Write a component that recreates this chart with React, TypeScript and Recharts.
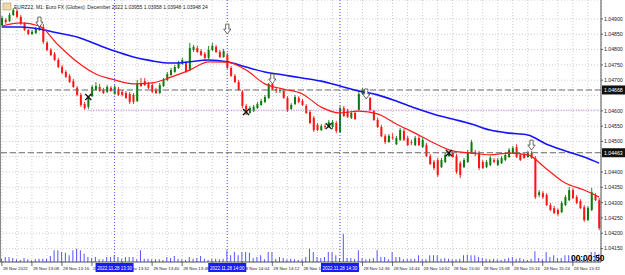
import React from "react";
import {
  Bar,
  CartesianGrid,
  ComposedChart,
  Line,
  ReferenceLine,
  XAxis,
  YAxis,
} from "recharts";

const W = 625;
const H = 275;

const title = "EURZ22, M1: Euro FX (Globex): December 2022  1.03955 1.03958 1.03948 1.03948 24";
const clockText = "00:00:50";
const firstMinute = 13 * 60; // first bar 13:00, one bar per minute

// candle prices in points above 1.04000 (1 point = 0.00001)
const opens = [
  880, 897, 893, 913, 926, 907, 884, 864, 851, 854,
  864, 874, 822, 799, 786, 766, 743, 727, 714, 697,
  675, 652, 622, 613, 648, 668, 678, 668, 662, 675,
  655, 671, 662, 658, 655, 652, 632, 688, 697, 688,
  684, 668, 658, 681, 701, 717, 727, 740, 753, 756,
  733, 799, 805, 795, 786, 773, 799, 809, 792, 776,
  782, 740, 714, 694, 662, 616, 593, 599, 609, 619,
  629, 642, 688, 671, 665, 665, 642, 606, 622, 642,
  632, 616, 596, 577, 554, 537, 550, 547, 547, 560,
  531, 609, 599, 577, 593, 603, 655, 662, 642, 599,
  570, 547, 517, 498, 514, 491, 505, 534, 511, 498,
  488, 511, 482, 488, 452, 433, 439, 416, 433, 452,
  462, 452, 429, 416, 433, 462, 465, 462, 433, 416,
  423, 439, 423, 429, 439, 449, 462, 481, 456, 456,
  449, 462, 446, 325, 331, 325, 292, 282, 276, 269,
  292, 308, 341, 318, 305, 285, 243, 276, 325, 308,
];
const highs = [
  910, 903, 920, 936, 933, 913, 890, 867, 864, 874,
  890, 884, 828, 805, 792, 773, 750, 733, 720, 704,
  681, 658, 629, 648, 684, 694, 688, 675, 684, 681,
  684, 678, 668, 665, 662, 658, 701, 707, 707, 694,
  691, 675, 691, 707, 727, 740, 750, 763, 773, 763,
  822, 815, 812, 802, 792, 812, 822, 815, 799, 802,
  789, 746, 720, 701, 668, 622, 616, 619, 629, 639,
  652, 691, 701, 678, 675, 671, 648, 625, 652, 648,
  639, 622, 603, 583, 560, 557, 557, 570, 570, 567,
  616, 616, 606, 599, 599, 668, 675, 668, 645, 603,
  577, 554, 524, 524, 527, 518, 544, 541, 518, 505,
  518, 518, 511, 495, 459, 439, 446, 446, 462, 469,
  469, 459, 436, 446, 472, 505, 472, 469, 439, 439,
  452, 446, 446, 452, 462, 478, 485, 491, 462, 462,
  469, 469, 452, 341, 338, 331, 299, 289, 282, 305,
  325, 351, 348, 325, 311, 292, 289, 348, 331, 315,
];
const lows = [
  874, 884, 890, 910, 903, 880, 861, 848, 848, 851,
  861, 818, 795, 779, 763, 740, 720, 707, 691, 675,
  648, 613, 603, 606, 645, 665, 662, 655, 658, 662,
  652, 648, 648, 639, 622, 622, 629, 678, 681, 671,
  658, 655, 655, 678, 697, 714, 724, 737, 750, 724,
  730, 792, 789, 779, 766, 769, 795, 789, 773, 773,
  737, 711, 691, 665, 609, 586, 590, 596, 606, 616,
  625, 639, 668, 658, 658, 639, 596, 603, 619, 625,
  616, 590, 557, 531, 534, 534, 541, 544, 541, 527,
  527, 580, 577, 573, 570, 599, 652, 639, 599, 567,
  544, 514, 491, 495, 505, 488, 501, 501, 485, 488,
  485, 485, 478, 449, 423, 406, 384, 413, 429, 449,
  446, 394, 380, 413, 429, 459, 452, 406, 410, 413,
  419, 429, 419, 426, 436, 446, 459, 446, 436, 443,
  446, 443, 312, 318, 312, 289, 272, 263, 256, 266,
  289, 305, 312, 295, 279, 237, 240, 272, 305, 210,
];
const closes = [
  903, 890, 913, 929, 907, 884, 864, 851, 858, 867,
  880, 825, 799, 782, 766, 743, 724, 711, 694, 678,
  652, 619, 609, 642, 678, 681, 665, 658, 678, 665,
  678, 652, 652, 642, 629, 629, 688, 681, 684, 675,
  662, 658, 684, 701, 720, 733, 743, 756, 766, 727,
  805, 809, 792, 782, 773, 799, 812, 792, 776, 795,
  740, 714, 694, 668, 616, 593, 609, 613, 622, 632,
  645, 688, 671, 665, 668, 642, 603, 619, 645, 629,
  619, 593, 560, 537, 537, 550, 547, 563, 563, 534,
  609, 583, 580, 593, 573, 655, 668, 642, 603, 570,
  547, 517, 498, 518, 511, 511, 537, 505, 488, 495,
  511, 488, 505, 452, 426, 413, 390, 439, 456, 462,
  449, 400, 390, 439, 465, 498, 459, 413, 413, 433,
  446, 433, 439, 446, 456, 472, 478, 449, 439, 446,
  462, 446, 318, 334, 318, 292, 276, 266, 263, 299,
  318, 341, 315, 299, 282, 243, 282, 334, 308, 217,
];
const volumes = [
  10, 15, 15, 12, 8, 6, 12, 8, 5, 8,
  10, 10, 10, 18, 35, 35, 30, 28, 20, 35,
  40, 35, 25, 15, 12, 15, 8, 8, 15, 15,
  20, 15, 10, 15, 15, 15, 8, 35, 10, 10,
  8, 8, 8, 6, 15, 12, 18, 10, 8, 6,
  15, 10, 12, 18, 10, 6, 10, 10, 8, 10,
  35, 20, 30, 20, 30, 30, 28, 12, 15, 20,
  8, 30, 30, 10, 15, 12, 8, 10, 8, 6,
  8, 15, 40, 30, 15, 12, 15, 30, 30, 20,
  12, 85, 12, 12, 10, 35, 12, 8, 10, 12,
  35, 15, 15, 8, 30, 15, 15, 8, 10, 10,
  10, 20, 8, 8, 20, 20, 20, 10, 12, 10,
  8, 8, 10, 20, 22, 20, 20, 15, 12, 10,
  8, 10, 8, 6, 10, 12, 15, 10, 12, 8,
  6, 10, 32, 12, 8, 30, 15, 20, 12, 12,
  20, 20, 12, 15, 12, 10, 10, 30, 30, 25,
];

// moving averages read at these bars (points above 1.04000)
const maBars = [0, 5, 10, 15, 20, 25, 30, 35, 40, 45, 50, 55, 60, 65, 70, 75, 80, 85, 90, 95, 100, 105, 110, 115, 120, 125, 130, 135, 140, 145, 150, 155, 159];
const redMa = [877, 887, 877, 815, 760, 720, 701, 688, 691, 710, 733, 760, 759, 733, 688, 671, 655, 612, 593, 599, 590, 557, 527, 495, 469, 462, 456, 462, 456, 410, 364, 341, 318];
const blueMa = [874, 874, 867, 854, 841, 818, 795, 776, 763, 756, 760, 766, 760, 743, 727, 717, 707, 697, 681, 665, 652, 632, 609, 589, 573, 557, 537, 527, 521, 491, 469, 449, 429];

const arrowBars = [10, 60, 72, 97, 141];
const arrowPts = [890, 867, 704, 655, 488];
const crossBars = [23, 65, 87, 119];
const crossPts = [645, 596, 550, 462];

const timeLabels = [
  "28 Nov 2022", "28 Nov 13:08", "28 Nov 13:16", "28 Nov 13:24", "28 Nov 13:32",
  "28 Nov 13:40", "28 Nov 13:48", "28 Nov 13:56", "28 Nov 14:04", "28 Nov 14:12",
  "28 Nov 14:20", "28 Nov 14:28", "28 Nov 14:36", "28 Nov 14:44", "28 Nov 14:52",
  "28 Nov 15:00", "28 Nov 15:08", "28 Nov 15:16", "28 Nov 15:24", "28 Nov 15:32",
];
const separatorBars = [30, 60, 90];
const separatorLabels = ["2022.11.28 13:30", "2022.11.28 14:00", "2022.11.28 14:30"];

const priceTicks = [1.0415, 1.042, 1.0425, 1.043, 1.0435, 1.044, 1.0445, 1.045, 1.0455, 1.046, 1.0465, 1.047, 1.0475, 1.048, 1.0485, 1.049];
const coveredTicks = [1.0465, 1.0445];
const dashedLevels = [1.04668, 1.04463];
const purpleLevel = 1.04602;
const purpleFromBar = 23;
const priceDomain = [1.04106, 1.04962];

const pt = (p: number) => 1.04 + p / 100000;

const times = opens.map((_, i) => {
  const m = firstMinute + i;
  return `${Math.floor(m / 60)}:${String(m % 60).padStart(2, "0")}`;
});

const data = opens.map((o, i) => {
  const ma = maBars.indexOf(i);
  const ar = arrowBars.indexOf(i);
  const cr = crossBars.indexOf(i);
  return {
    t: times[i],
    open: pt(o),
    high: pt(highs[i]),
    low: pt(lows[i]),
    close: pt(closes[i]),
    range: [pt(lows[i]), pt(highs[i])],
    vol: volumes[i],
    maRed: ma >= 0 ? pt(redMa[ma]) : null,
    maBlue: ma >= 0 ? pt(blueMa[ma]) : null,
    arrow: ar >= 0 ? pt(arrowPts[ar]) : null,
    cross: cr >= 0 ? pt(crossPts[cr]) : null,
  };
});

const gridBars = times.map((_, i) => i).filter((i) => i % 4 === 0 && !separatorBars.includes(i));
const xTicks = [...gridBars, ...separatorBars].map((i) => times[i]);
const yTicks = [...priceTicks, ...dashedLevels];

const FONT = "'Liberation Sans', Arial, sans-serif";

const Candle = (props: any) => {
  const { x, y, width, height, payload } = props;
  if (!payload || height == null) return <g />;
  const top = Math.min(y, y + height);
  const h = Math.abs(height);
  const { open, close, high, low } = payload;
  const k = high > low ? h / (high - low) : 0;
  const up = close >= open;
  const color = up ? "#0d7a0d" : "#ff1414";
  const bt = top + (high - Math.max(open, close)) * k;
  const bb = top + (high - Math.min(open, close)) * k;
  const cx = x + width / 2;
  return (
    <g>
      <line x1={cx} x2={cx} y1={top} y2={top + h} stroke={color} strokeWidth={0.9} />
      <rect x={x} y={bt} width={width} height={Math.max(bb - bt, 0.8)} fill={color} />
    </g>
  );
};

const ArrowDot = (props: any) => {
  const { cx, cy, value, index } = props;
  if (value == null || cy == null) return <g key={`a${index}`} />;
  const d = `M${cx - 1.6} ${cy - 5} L${cx + 1.6} ${cy - 5} L${cx + 1.6} ${cy} L${cx + 3.6} ${cy} L${cx} ${cy + 5} L${cx - 3.6} ${cy} L${cx - 1.6} ${cy} Z`;
  return <path key={`a${index}`} d={d} fill="#fff" stroke="#444" strokeWidth={0.8} />;
};

const CrossDot = (props: any) => {
  const { cx, cy, value, index } = props;
  if (value == null || cy == null) return <g key={`c${index}`} />;
  return (
    <g key={`c${index}`} stroke="#111" strokeWidth={1.3}>
      <line x1={cx - 3} y1={cy - 3} x2={cx + 3} y2={cy + 3} />
      <line x1={cx - 3} y1={cy + 3} x2={cx + 3} y2={cy - 3} />
    </g>
  );
};

const TimeTick = (props: any) => {
  const { x, y, payload } = props;
  const i = times.indexOf(payload.value);
  const s = separatorBars.indexOf(i);
  if (s >= 0) {
    return (
      <g>
        <rect x={x - 19} y={y + 1} width={38} height={9} fill="#1a1aff" />
        <text x={x} y={y + 7.5} textAnchor="middle" fontSize={4.5} fontFamily={FONT} fill="#fff">
          {separatorLabels[s]}
        </text>
      </g>
    );
  }
  if (i % 8 !== 0) return <g />;
  return (
    <g>
      <line x1={x} x2={x} y1={y} y2={y + 4} stroke="#444" strokeWidth={0.8} />
      <text x={x + 1} y={y + 8} fontSize={4.4} fontFamily={FONT} fill="#222">
        {timeLabels[i / 8]}
      </text>
    </g>
  );
};

const PriceTick = (props: any) => {
  const { x, y, payload, index } = props;
  const v = payload.value as number;
  if (index >= priceTicks.length) {
    return (
      <g>
        <rect x={x + 1} y={y - 4.5} width={23} height={9} fill="#111" />
        <text x={x + 3} y={y + 1.9} fontSize={5.2} fontFamily={FONT} fill="#fff">
          {v.toFixed(5)}
        </text>
      </g>
    );
  }
  if (coveredTicks.includes(v)) return <g />;
  return (
    <g>
      <line x1={x} x2={x + 2} y1={y} y2={y} stroke="#444" strokeWidth={0.8} />
      <text x={x + 3} y={y + 1.9} fontSize={5.2} fontFamily={FONT} fill="#222">
        {v.toFixed(5)}
      </text>
    </g>
  );
};

export default function App() {
  return (
    <div style={{ position: "absolute", left: 0, top: 0, width: W, height: H, background: "#fff" }}>
      <ComposedChart width={W} height={H} data={data} margin={{ top: 0, right: 0, bottom: 0, left: 0 }}>
        <CartesianGrid xAxisId="m" yAxisId="m" stroke="#cdcdcd" strokeDasharray="1 2" />
        <XAxis
          xAxisId="m"
          dataKey="t"
          ticks={xTicks}
          interval={0}
          tick={TimeTick}
          tickSize={0}
          tickMargin={0}
          tickLine={false}
          height={13}
          axisLine={{ stroke: "#555" }}
        />
        <XAxis xAxisId="v" dataKey="t" hide />
        <YAxis
          yAxisId="m"
          orientation="right"
          type="number"
          width={24}
          domain={priceDomain}
          allowDataOverflow
          ticks={yTicks}
          interval={0}
          tick={PriceTick}
          tickSize={0}
          tickMargin={0}
          tickLine={false}
          axisLine={{ stroke: "#555" }}
        />
        <YAxis yAxisId="v" hide domain={[0, 786]} />

        {separatorBars.map((i) => (
          <ReferenceLine key={`s${i}`} xAxisId="m" yAxisId="m" x={times[i]} stroke="#5a5aff" strokeDasharray="1 2" />
        ))}
        {dashedLevels.map((lv) => (
          <ReferenceLine key={`d${lv}`} xAxisId="m" yAxisId="m" y={lv} stroke="#6e6e6e" strokeDasharray="6 3" />
        ))}
        <ReferenceLine
          xAxisId="m"
          yAxisId="m"
          segment={[
            { x: times[purpleFromBar], y: purpleLevel },
            { x: times[times.length - 1], y: purpleLevel },
          ]}
          stroke="#c46ee6"
          strokeDasharray="1 1.5"
        />

        <Bar xAxisId="v" yAxisId="v" dataKey="vol" fill="#5555ff" barSize={1} isAnimationActive={false} />
        <Bar xAxisId="m" yAxisId="m" dataKey="range" barSize={2} shape={Candle} isAnimationActive={false} />

        <Line xAxisId="m" yAxisId="m" type="monotone" dataKey="maBlue" stroke="#1414ff" strokeWidth={1.6} dot={false} activeDot={false} connectNulls isAnimationActive={false} />
        <Line xAxisId="m" yAxisId="m" type="monotone" dataKey="maRed" stroke="#ff1a1a" strokeWidth={1.2} dot={false} activeDot={false} connectNulls isAnimationActive={false} />
        <Line xAxisId="m" yAxisId="m" dataKey="arrow" stroke="none" dot={ArrowDot} activeDot={false} isAnimationActive={false} />
        <Line xAxisId="m" yAxisId="m" dataKey="cross" stroke="none" dot={CrossDot} activeDot={false} isAnimationActive={false} />
      </ComposedChart>
      <svg width={W} height={H} style={{ position: "absolute", left: 0, top: 0, pointerEvents: "none" }}>
        <line x1={0.5} x2={0.5} y1={0} y2={262} stroke="#8a8a8a" />
        <rect x={3} y={3} width={8} height={7} fill="#e9d9b0" stroke="#b99a5a" strokeWidth={0.6} />
        <text x={14} y={9} fontSize={5} fontFamily={FONT} fill="#222">
          {title}
        </text>
        <text x={571} y={261} fontSize={8.4} fontWeight="bold" fontFamily={FONT} fill="#000">
          {clockText}
        </text>
      </svg>
    </div>
  );
}
